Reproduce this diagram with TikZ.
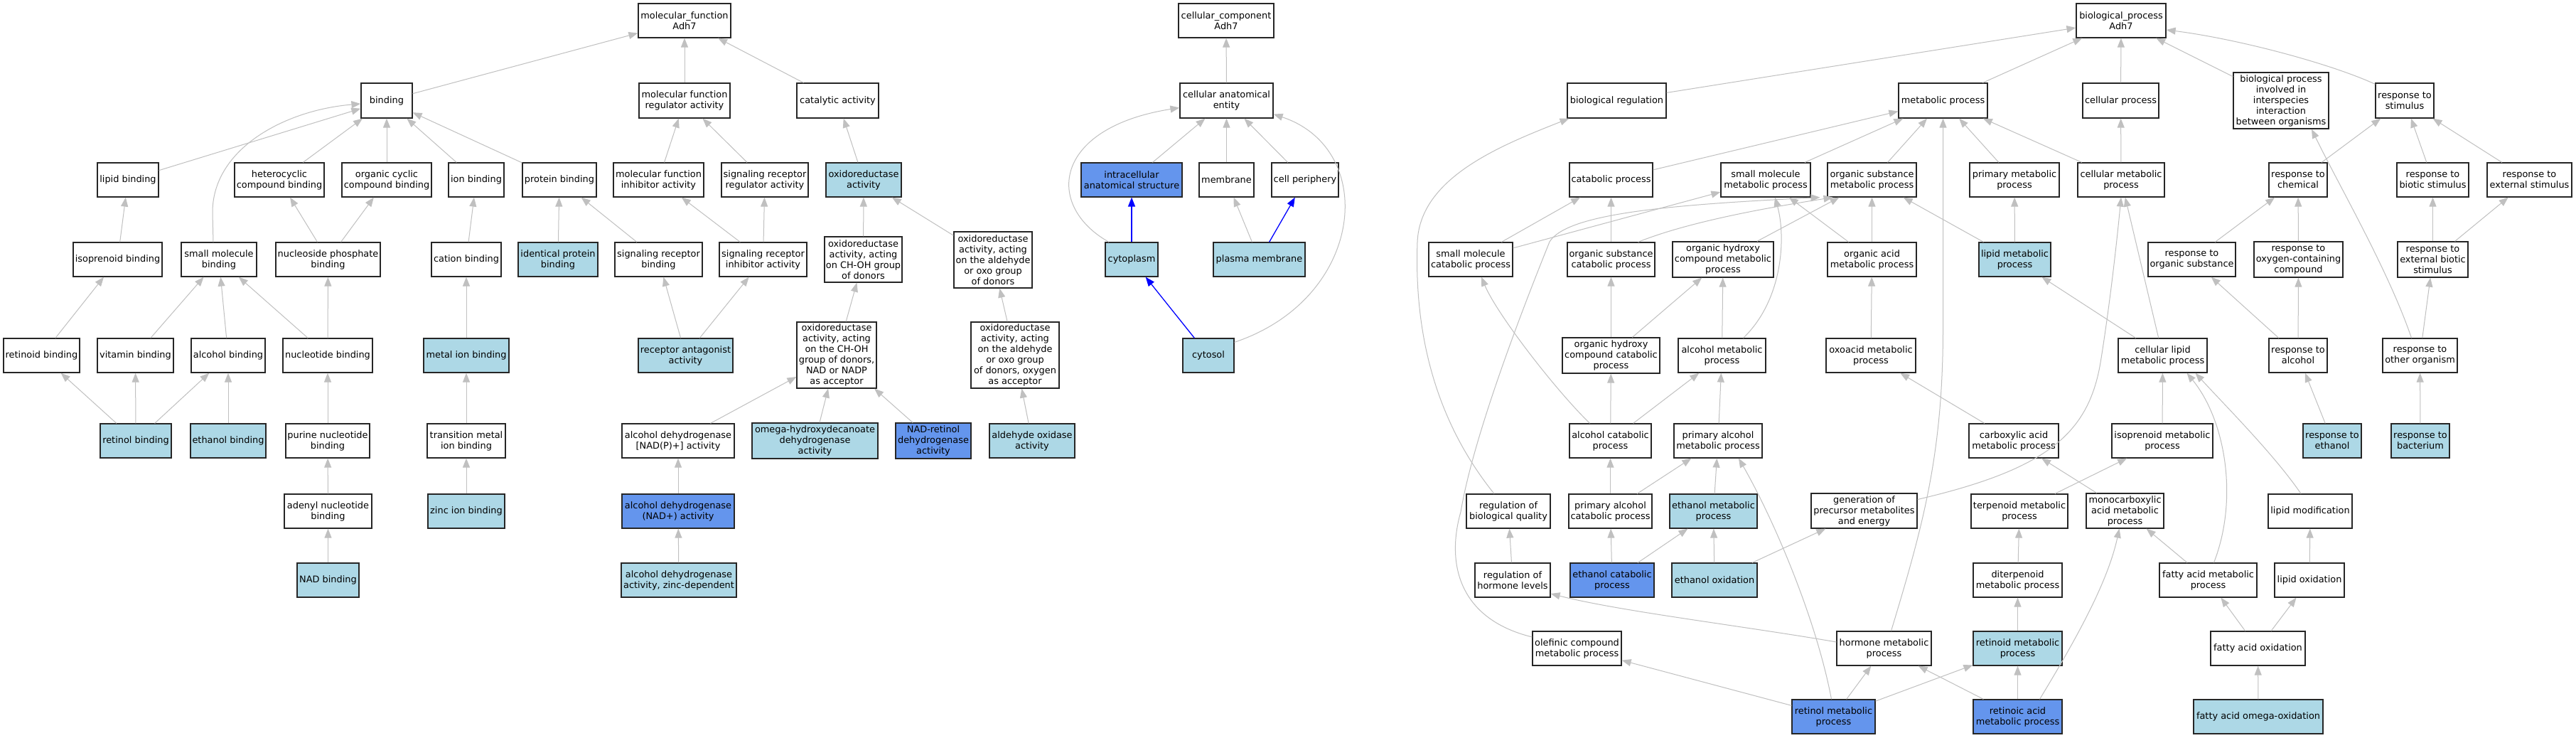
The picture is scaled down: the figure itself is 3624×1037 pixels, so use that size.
\documentclass[tikz,border=0pt]{standalone}
\usepackage{fontspec}
\setmainfont{DejaVu Sans}
\usetikzlibrary{arrows.meta}
\definecolor{lblue}{HTML}{ADD8E6}
\definecolor{cblue}{HTML}{6495ED}
\definecolor{egray}{HTML}{C0C0C0}
\newcommand\gofont{\fontsize{12.9pt}{15pt}\selectfont}
\newcommand\gonode[6]{\node[#1,minimum width=#5pt,minimum height=#6pt] (#2) at (#3,#4)}
\begin{document}
\begin{tikzpicture}[x=1pt,y=-1pt,
  gobox/.style={draw=black!85, line width=1.2pt, rectangle, inner sep=0pt, align=center, font=\gofont},
  nb/.style={gobox, fill=white},
  lb/.style={gobox, fill=lblue},
  cb/.style={gobox, fill=cblue},
  ed/.style={draw=egray, line width=1pt, -{Triangle[length=13pt,width=10pt]}},
  be/.style={ed, draw=blue, line width=1.3pt}]
\fill[white] (0,0) rectangle (3624,1037);
\useasboundingbox (0,0) rectangle (3624,1037);
% ---------------- molecular function ----------------
\gonode{nb}{mf}{963}{29}{130}{48}{molecular\_function\\Adh7};
\gonode{nb}{binding}{544}{141.5}{72}{49}{binding};
\gonode{nb}{mfreg}{963}{141.5}{128}{49}{molecular function\\regulator activity};
\gonode{nb}{catal}{1178.5}{141.5}{115}{49}{catalytic activity};
\gonode{nb}{lipidb}{180}{253}{86}{48}{lipid binding};
\gonode{nb}{hetero}{393}{253}{126}{48}{heterocyclic\\compound binding};
\gonode{nb}{orgcyc}{544}{253}{126}{48}{organic cyclic\\compound binding};
\gonode{nb}{ionb}{670}{253}{78}{48}{ion binding};
\gonode{nb}{protb}{787}{253}{104}{48}{protein binding};
\gonode{nb}{mfinh}{926.5}{253}{127}{48}{molecular function\\inhibitor activity};
\gonode{nb}{sigreg}{1076}{253}{122}{48}{signaling receptor\\regulator activity};
\gonode{lb}{oxred}{1215}{253}{106}{48}{oxidoreductase\\activity};
\gonode{nb}{isob}{165.5}{365}{125}{48}{isoprenoid binding};
\gonode{nb}{smb}{308}{365}{106}{48}{small molecule\\binding};
\gonode{nb}{nspb}{461.5}{365}{147}{48}{nucleoside phosphate\\binding};
\gonode{nb}{catb}{656}{365}{98}{48}{cation binding};
\gonode{lb}{idpb}{785}{365}{112}{48}{identical protein\\binding};
\gonode{nb}{sigrb}{926.5}{365}{123}{48}{signaling receptor\\binding};
\gonode{nb}{sigrinh}{1073.5}{365}{123}{48}{signaling receptor\\inhibitor activity};
\gonode{nb}{oxchoh}{1214.5}{365}{109}{64}{oxidoreductase\\activity, acting\\on CH-OH group\\of donors};
\gonode{nb}{oxald}{1397}{365.5}{110}{79}{oxidoreductase\\activity, acting\\on the aldehyde\\or oxo group\\of donors};
\gonode{nb}{retb}{58.5}{500}{107}{48}{retinoid binding};
\gonode{nb}{vitb}{190.5}{500}{107}{48}{vitamin binding};
\gonode{nb}{alcb}{321}{500}{104}{48}{alcohol binding};
\gonode{nb}{nucb}{461}{500}{126}{48}{nucleotide binding};
\gonode{lb}{metb}{656}{500}{120}{48}{metal ion binding};
\gonode{lb}{recant}{964.5}{500}{133}{48}{receptor antagonist\\activity};
\gonode{nb}{oxnad}{1177}{499.5}{112}{93}{oxidoreductase\\activity, acting\\on the CH-OH\\group of donors,\\NAD or NADP\\as acceptor};
\gonode{nb}{oxoxy}{1428}{499.5}{124}{93}{oxidoreductase\\activity, acting\\on the aldehyde\\or oxo group\\of donors, oxygen\\as acceptor};
\gonode{lb}{retolb}{191}{620}{100}{48}{retinol binding};
\gonode{lb}{ethb}{321}{620}{106}{48}{ethanol binding};
\gonode{nb}{purb}{461}{620}{118}{48}{purine nucleotide\\binding};
\gonode{nb}{tmib}{656}{620}{110}{48}{transition metal\\ion binding};
\gonode{nb}{adhnadp}{954}{620}{158}{48}{alcohol dehydrogenase\\{[}NAD(P)+{]} activity};
\gonode{lb}{omega}{1146.5}{620}{177}{50}{omega-hydroxydecanoate\\dehydrogenase\\activity};
\gonode{cb}{nadret}{1313}{620}{106}{50}{NAD-retinol\\dehydrogenase\\activity};
\gonode{lb}{aldox}{1452}{620}{120}{48}{aldehyde oxidase\\activity};
\gonode{nb}{adenb}{461.5}{719}{123}{48}{adenyl nucleotide\\binding};
\gonode{lb}{zincb}{656}{719}{108}{48}{zinc ion binding};
\gonode{cb}{adhnad}{954}{719}{158}{48}{alcohol dehydrogenase\\(NAD+) activity};
\gonode{lb}{nadb}{461.5}{816}{87}{48}{NAD binding};
\gonode{lb}{adhzn}{955}{816}{162}{48}{alcohol dehydrogenase\\activity, zinc-dependent};
% ---------------- cellular component ----------------
\gonode{nb}{cc}{1725}{29}{134}{48}{cellular\_component\\Adh7};
\gonode{nb}{cae}{1725.5}{141.5}{131}{49}{cellular anatomical\\entity};
\gonode{cb}{ias}{1592}{253}{142}{48}{intracellular\\anatomical structure};
\gonode{nb}{memb}{1725.5}{253}{77}{48}{membrane};
\gonode{nb}{cper}{1836}{253}{94}{48}{cell periphery};
\gonode{lb}{cyto}{1592}{365}{74}{48}{cytoplasm};
\gonode{lb}{pm}{1771.5}{365}{129}{48}{plasma membrane};
\gonode{lb}{cytosol}{1700}{500}{72}{48}{cytosol};
% ---------------- biological process ----------------
\gonode{nb}{bp}{2984}{29}{126}{48}{biological\_process\\Adh7};
\gonode{nb}{bioreg}{2274.5}{141.5}{139}{49}{biological regulation};
\gonode{nb}{metp}{2733.5}{141.5}{125}{49}{metabolic process};
\gonode{nb}{cellp}{2983.5}{141.5}{107}{49}{cellular process};
\gonode{nb}{interp}{3209}{141.5}{134}{79}{biological process\\involved in\\interspecies\\interaction\\between organisms};
\gonode{nb}{resst}{3383}{141.5}{82}{49}{response to\\stimulus};
\gonode{nb}{catp}{2266.5}{253}{117}{48}{catabolic process};
\gonode{nb}{smmp}{2484}{253}{126}{48}{small molecule\\metabolic process};
\gonode{nb}{osmp}{2633.5}{253}{125}{48}{organic substance\\metabolic process};
\gonode{nb}{primp}{2834}{253}{126}{48}{primary metabolic\\process};
\gonode{nb}{cmp}{2984}{253}{122}{48}{cellular metabolic\\process};
\gonode{nb}{rchem}{3233}{253}{82}{48}{response to\\chemical};
\gonode{nb}{rbio}{3422.5}{253}{101}{48}{response to\\biotic stimulus};
\gonode{nb}{rext}{3558.5}{253}{119}{48}{response to\\external stimulus};
\gonode{nb}{smcp}{2069}{365}{118}{48}{small molecule\\catabolic process};
\gonode{nb}{oscp}{2266.5}{365}{123}{48}{organic substance\\catabolic process};
\gonode{nb}{ohcmp}{2424}{365}{142}{50}{organic hydroxy\\compound metabolic\\process};
\gonode{nb}{oamp}{2633.5}{365}{125}{48}{organic acid\\metabolic process};
\gonode{lb}{lipmp}{2834.5}{365}{101}{48}{lipid metabolic\\process};
\gonode{nb}{rorg}{3083.5}{365}{123}{48}{response to\\organic substance};
\gonode{nb}{roxy}{3233.5}{365}{125}{50}{response to\\oxygen-containing\\compound};
\gonode{nb}{rextb}{3422.5}{365}{99}{50}{response to\\external biotic\\stimulus};
\gonode{nb}{ohccp}{2266.5}{500}{137}{50}{organic hydroxy\\compound catabolic\\process};
\gonode{nb}{alcmp}{2422.5}{500}{123}{48}{alcohol metabolic\\process};
\gonode{nb}{oxomp}{2632}{500}{126}{48}{oxoacid metabolic\\process};
\gonode{nb}{clmp}{3042.5}{500}{125}{48}{cellular lipid\\metabolic process};
\gonode{nb}{ralc}{3233}{500}{82}{48}{response to\\alcohol};
\gonode{nb}{roth}{3404.5}{500}{105}{48}{response to\\other organism};
\gonode{nb}{alccp}{2265.5}{620}{115}{48}{alcohol catabolic\\process};
\gonode{nb}{palcmp}{2417}{620}{124}{48}{primary alcohol\\metabolic process};
\gonode{nb}{camp}{2833}{620}{126}{48}{carboxylic acid\\metabolic process};
\gonode{nb}{isomp}{3042}{620}{142}{48}{isoprenoid metabolic\\process};
\gonode{lb}{reth}{3281}{620}{82}{48}{response to\\ethanol};
\gonode{lb}{rbact}{3405}{620}{82}{48}{response to\\bacterium};
\gonode{nb}{rbq}{2122}{719}{118}{48}{regulation of\\biological quality};
\gonode{nb}{palccp}{2265.5}{719}{117}{48}{primary alcohol\\catabolic process};
\gonode{lb}{ethmp}{2410.5}{719}{123}{48}{ethanol metabolic\\process};
\gonode{nb}{gpme}{2622.5}{718.5}{149}{49}{generation of\\precursor metabolites\\and energy};
\gonode{nb}{terp}{2841}{719}{136}{48}{terpenoid metabolic\\process};
\gonode{nb}{mcamp}{2989.5}{718.5}{109}{49}{monocarboxylic\\acid metabolic\\process};
\gonode{nb}{lmod}{3250}{719}{118}{48}{lipid modification};
\gonode{nb}{rhl}{2128}{816}{106}{48}{regulation of\\hormone levels};
\gonode{cb}{ethcp}{2268}{816}{118}{48}{ethanol catabolic\\process};
\gonode{lb}{ethox}{2412}{816}{120}{48}{ethanol oxidation};
\gonode{nb}{dit}{2838.5}{816}{125}{48}{diterpenoid\\metabolic process};
\gonode{nb}{famp}{3106.5}{816}{137}{48}{fatty acid metabolic\\process};
\gonode{nb}{lox}{3249}{816}{98}{48}{lipid oxidation};
\gonode{nb}{olef}{2218.5}{912}{125}{48}{olefinic compound\\metabolic process};
\gonode{nb}{hormp}{2650.5}{912}{133}{48}{hormone metabolic\\process};
\gonode{lb}{retmp}{2838.5}{912}{125}{48}{retinoid metabolic\\process};
\gonode{nb}{fao}{3176.5}{912}{133}{48}{fatty acid oxidation};
\gonode{cb}{retolmp}{2579.5}{1008}{117}{48}{retinol metabolic\\process};
\gonode{cb}{retamp}{2838.5}{1008}{125}{48}{retinoic acid\\metabolic process};
\gonode{lb}{faomega}{3177}{1008}{182}{48}{fatty acid omega-oxidation};
% ---------------- edges: molecular function ----------------
\draw[ed] (binding) -- (mf);
\draw[ed] (mfreg) -- (mf);
\draw[ed] (catal) -- (mf);
\draw[ed] (lipidb) -- (binding);
\draw[ed] ([xshift=-8pt]smb.north) -- (299,300) .. controls (298,210) and (400,155) .. ([yshift=-4.5pt]binding.west);
\draw[ed] (hetero) -- (binding);
\draw[ed] (orgcyc) -- (binding);
\draw[ed] (ionb) -- (binding);
\draw[ed] (protb) -- (binding);
\draw[ed] (mfinh) -- (mfreg);
\draw[ed] (sigreg) -- (mfreg);
\draw[ed] (oxred) -- (catal);
\draw[ed] (isob) -- (lipidb);
\draw[ed] (nspb) -- (hetero);
\draw[ed] (nspb) -- (orgcyc);
\draw[ed] (catb) -- (ionb);
\draw[ed] (idpb) -- (protb);
\draw[ed] (sigrb) -- (protb);
\draw[ed] (sigrinh) -- (mfinh);
\draw[ed] (sigrinh) -- (sigreg);
\draw[ed] (oxchoh) -- (oxred);
\draw[ed] (oxald) -- (oxred);
\draw[ed] (retb) -- (isob);
\draw[ed] (vitb) -- (smb);
\draw[ed] (alcb) -- (smb);
\draw[ed] (nucb) -- (smb);
\draw[ed] (nucb) -- (nspb);
\draw[ed] (metb) -- (catb);
\draw[ed] (recant) -- (sigrb);
\draw[ed] (recant) -- (sigrinh);
\draw[ed] (oxnad) -- (oxchoh);
\draw[ed] (oxoxy) -- (oxald);
\draw[ed] (retolb) -- (retb);
\draw[ed] (retolb) -- (vitb);
\draw[ed] (retolb) -- (alcb);
\draw[ed] (ethb) -- (alcb);
\draw[ed] (purb) -- (nucb);
\draw[ed] (tmib) -- (metb);
\draw[ed] (adhnadp) -- (oxnad);
\draw[ed] (omega) -- (oxnad);
\draw[ed] (nadret) -- (oxnad);
\draw[ed] (aldox) -- (oxoxy);
\draw[ed] (adenb) -- (purb);
\draw[ed] (zincb) -- (tmib);
\draw[ed] (adhnad) -- (adhnadp);
\draw[ed] (nadb) -- (adenb);
\draw[ed] (adhzn) -- (adhnad);
% ---------------- edges: cellular component ----------------
\draw[ed] (cae) -- (cc);
\draw[ed] (ias) -- (cae);
\draw[ed] (memb) -- (cae);
\draw[ed] (cper) -- (cae);
\draw[ed] ([xshift=-32pt]cyto.north) .. controls (1470,290) and (1480,180) .. ([yshift=-10pt]cae.west);
\draw[be] (cyto) -- (ias);
\draw[ed] (pm) -- (memb);
\draw[be] (pm) -- (cper);
\draw[be] (cytosol) -- (cyto);
\draw[ed] ([yshift=-6pt]cytosol.north east) .. controls (1920,420) and (1940,210) .. ([yshift=6pt]cae.south east);
% ---------------- edges: biological process ----------------
\draw[ed] (bioreg) -- (bp);
\draw[ed] (metp) -- (bp);
\draw[ed] (cellp) -- (bp);
\draw[ed] (interp) -- (bp);
\draw[ed] ([yshift=-2pt]resst.north west) .. controls (3280,90) and (3150,55) .. ([yshift=-13pt]bp.east);
\draw[ed] (catp) -- (metp);
\draw[ed] (smmp) -- (metp);
\draw[ed] (osmp) -- (metp);
\draw[ed] (primp) -- (metp);
\draw[ed] (cmp) -- (metp);
\draw[ed] (cmp) -- (cellp);
\draw[ed] (rchem) -- (resst);
\draw[ed] (rbio) -- (resst);
\draw[ed] (rext) -- (resst);
\draw[ed] (smcp) -- (catp);
\draw[ed] (smcp) -- (smmp);
\draw[ed] (oscp) -- (catp);
\draw[ed] ([xshift=38pt]oscp.north) .. controls (2380,310) and (2500,290) .. ([xshift=-55pt]osmp.south);
\draw[ed] (ohcmp) -- (osmp);
\draw[ed] (oamp) -- (smmp);
\draw[ed] (oamp) -- (osmp);
\draw[ed] (lipmp) -- (primp);
\draw[ed] (lipmp) -- (osmp);
\draw[ed] (rorg) -- (rchem);
\draw[ed] (roxy) -- (rchem);
\draw[ed] (rextb) -- (rbio);
\draw[ed] (rextb) -- (rext);
\draw[ed] (ohccp) -- (oscp);
\draw[ed] (ohccp) -- (ohcmp);
\draw[ed] (alcmp) -- (ohcmp);
\draw[ed] ([xshift=30pt]alcmp.north) .. controls (2510,420) and (2512,330) .. ([xshift=13pt]smmp.south);
\draw[ed] (oxomp) -- (oamp);
\draw[ed] (clmp) -- (lipmp);
\draw[ed] (clmp) -- (cmp);
\draw[ed] (ralc) -- (rorg);
\draw[ed] (ralc) -- (roxy);
\draw[ed] (roth) -- (rextb);
\draw[ed] ([xshift=-12pt]roth.north) .. controls (3360,380) and (3290,260) .. ([xshift=43pt]interp.south);
\draw[ed] (alccp) -- (ohccp);
\draw[ed] (alccp) -- (alcmp);
\draw[ed] ([xshift=-29pt]alccp.north) .. controls (2185,545) and (2105,440) .. ([xshift=15pt]smcp.south);
\draw[ed] (palcmp) -- (alcmp);
\draw[ed] (camp) -- (oxomp);
\draw[ed] (isomp) -- (clmp);
\draw[ed] (reth) -- (ralc);
\draw[ed] (rbact) -- (roth);
\draw[ed] ([xshift=-20pt]rbq.north) .. controls (2010,580) and (1990,450) .. (1994,340) .. controls (1998,250) and (2110,205) .. ([xshift=-67pt]bioreg.south);
\draw[ed] (palccp) -- (alccp);
\draw[ed] (palccp) -- (palcmp);
\draw[ed] (ethmp) -- (palcmp);
\draw[ed] ([yshift=16pt]gpme.east) .. controls (2880,660) and (2938,610) .. (2955,510) .. controls (2968,430) and (2978,340) .. (cmp.south);
\draw[ed] (terp) -- (isomp);
\draw[ed] (mcamp) -- (camp);
\draw[ed] ([xshift=-13pt]lmod.north) .. controls (3200,640) and (3130,570) .. ([xshift=46pt]clmp.south);
\draw[ed] (rhl) -- (rbq);
\draw[ed] (ethcp) -- (palccp);
\draw[ed] (ethcp) -- (ethmp);
\draw[ed] (ethox) -- (ethmp);
\draw[ed] (ethox) -- (gpme);
\draw[ed] (dit) -- (terp);
\draw[ed] (famp) -- (mcamp);
\draw[ed] ([xshift=8pt]famp.north) .. controls (3150,700) and (3130,590) .. ([xshift=34pt]clmp.south);
\draw[ed] (lox) -- (lmod);
\draw[ed] ([yshift=16pt]olef.west) .. controls (2050,870) and (2035,790) .. (2055,720) .. controls (2075,600) and (2160,390) .. (2180,340) .. controls (2205,300) and (2350,288) .. ([xshift=-73pt]osmp.south);
\draw[ed] ([yshift=9pt]hormp.west) .. controls (2450,880) and (2280,860) .. ([yshift=-19pt]rhl.east);
\draw[ed] ([xshift=10pt]hormp.north) .. controls (2705,740) and (2733.5,640) .. (2733.5,460) -- (metp.south);
\draw[ed] (retmp) -- (dit);
\draw[ed] (fao) -- (famp);
\draw[ed] (fao) -- (lox);
\draw[ed] (retolmp) -- (olef);
\draw[ed] (retolmp) -- (hormp);
\draw[ed] ([xshift=-3pt]retolmp.north) .. controls (2555,870) and (2495,730) .. ([xshift=29pt]palcmp.south);
\draw[ed] (retolmp) -- (retmp);
\draw[ed] (retamp) -- (retmp);
\draw[ed] (retamp) -- (hormp);
\draw[ed] ([xshift=31pt]retamp.north) .. controls (2920,900) and (2965,820) .. ([xshift=-8pt]mcamp.south);
\draw[ed] (faomega) -- (fao);
\end{tikzpicture}
\end{document}
